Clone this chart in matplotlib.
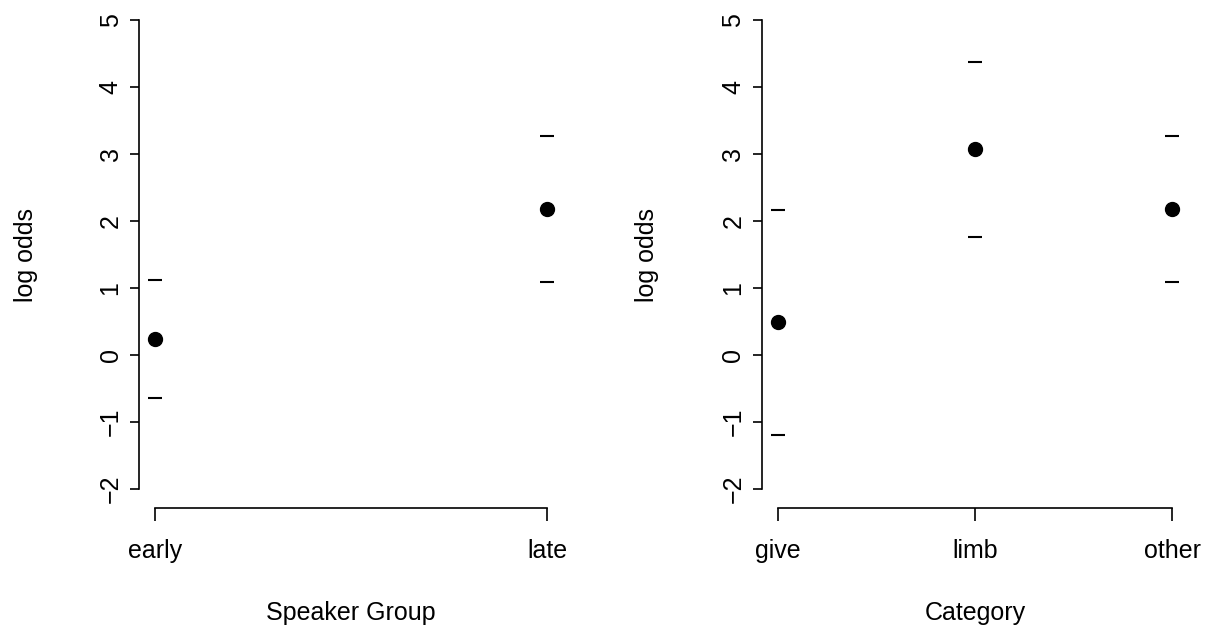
import matplotlib
matplotlib.use('Agg')
import matplotlib.pyplot as plt
import numpy as np

plt.rcParams['font.family'] = ['Liberation Sans', 'DejaVu Sans']

# left panel: speaker group
groups = ['early', 'late']
group_est = [0.24, 2.18]
group_lo = [-0.64, 1.09]
group_hi = [1.12, 3.27]

# right panel: category
cats = ['give', 'limb', 'other']
cat_est = [0.49, 3.07, 2.18]
cat_lo = [-1.19, 1.77, 1.09]
cat_hi = [2.17, 4.37, 3.27]

yticks = [-2, -1, 0, 1, 2, 3, 4, 5]
fs = 18

fig = plt.figure(figsize=(12.09, 6.41), dpi=100)
ax1 = fig.add_axes([0.1152, 0.2075, 0.3502, 0.7906])
ax2 = fig.add_axes([0.6304, 0.2075, 0.3522, 0.7906])

def panel(ax, labels, est, lo, hi, xlab):
    x = np.arange(len(labels))
    ax.plot(x, est, 'o', color='black', markersize=10)
    ax.plot(x, lo, '_', color='black', markersize=10, markeredgewidth=1.5)
    ax.plot(x, hi, '_', color='black', markersize=10, markeredgewidth=1.5)
    pad = 0.04 * (len(labels) - 1)
    ax.set_xlim(-pad, len(labels) - 1 + pad)
    ax.set_ylim(-2.28, 5.28)
    for s in ['top', 'right']:
        ax.spines[s].set_visible(False)
    ax.spines['left'].set_bounds(-2, 5)
    ax.spines['bottom'].set_bounds(0, len(labels) - 1)
    ax.spines['left'].set_linewidth(1.2)
    ax.spines['bottom'].set_linewidth(1.2)
    ax.set_xticks(x)
    ax.set_xticklabels(labels, fontsize=fs)
    ax.set_yticks(yticks)
    ax.set_yticklabels([str(v).replace('-', '\u2212') for v in yticks], fontsize=fs,
                       rotation=90, va='center')
    ax.tick_params(axis='x', length=9, width=1.2, pad=13)
    ax.tick_params(axis='y', length=6.5, width=1.2, pad=5.5)
    ax.set_xlabel(xlab, fontsize=fs, va='center')
    ax.xaxis.set_label_coords(0.5, -0.208)
    ax.set_ylabel('log odds', fontsize=fs, va='center')

panel(ax1, groups, group_est, group_lo, group_hi, 'Speaker Group')
ax1.yaxis.set_label_coords(-0.268, 0.5)
panel(ax2, cats, cat_est, cat_lo, cat_hi, 'Category')
ax2.yaxis.set_label_coords(-0.271, 0.5)

fig.savefig('out.png', dpi=100)
